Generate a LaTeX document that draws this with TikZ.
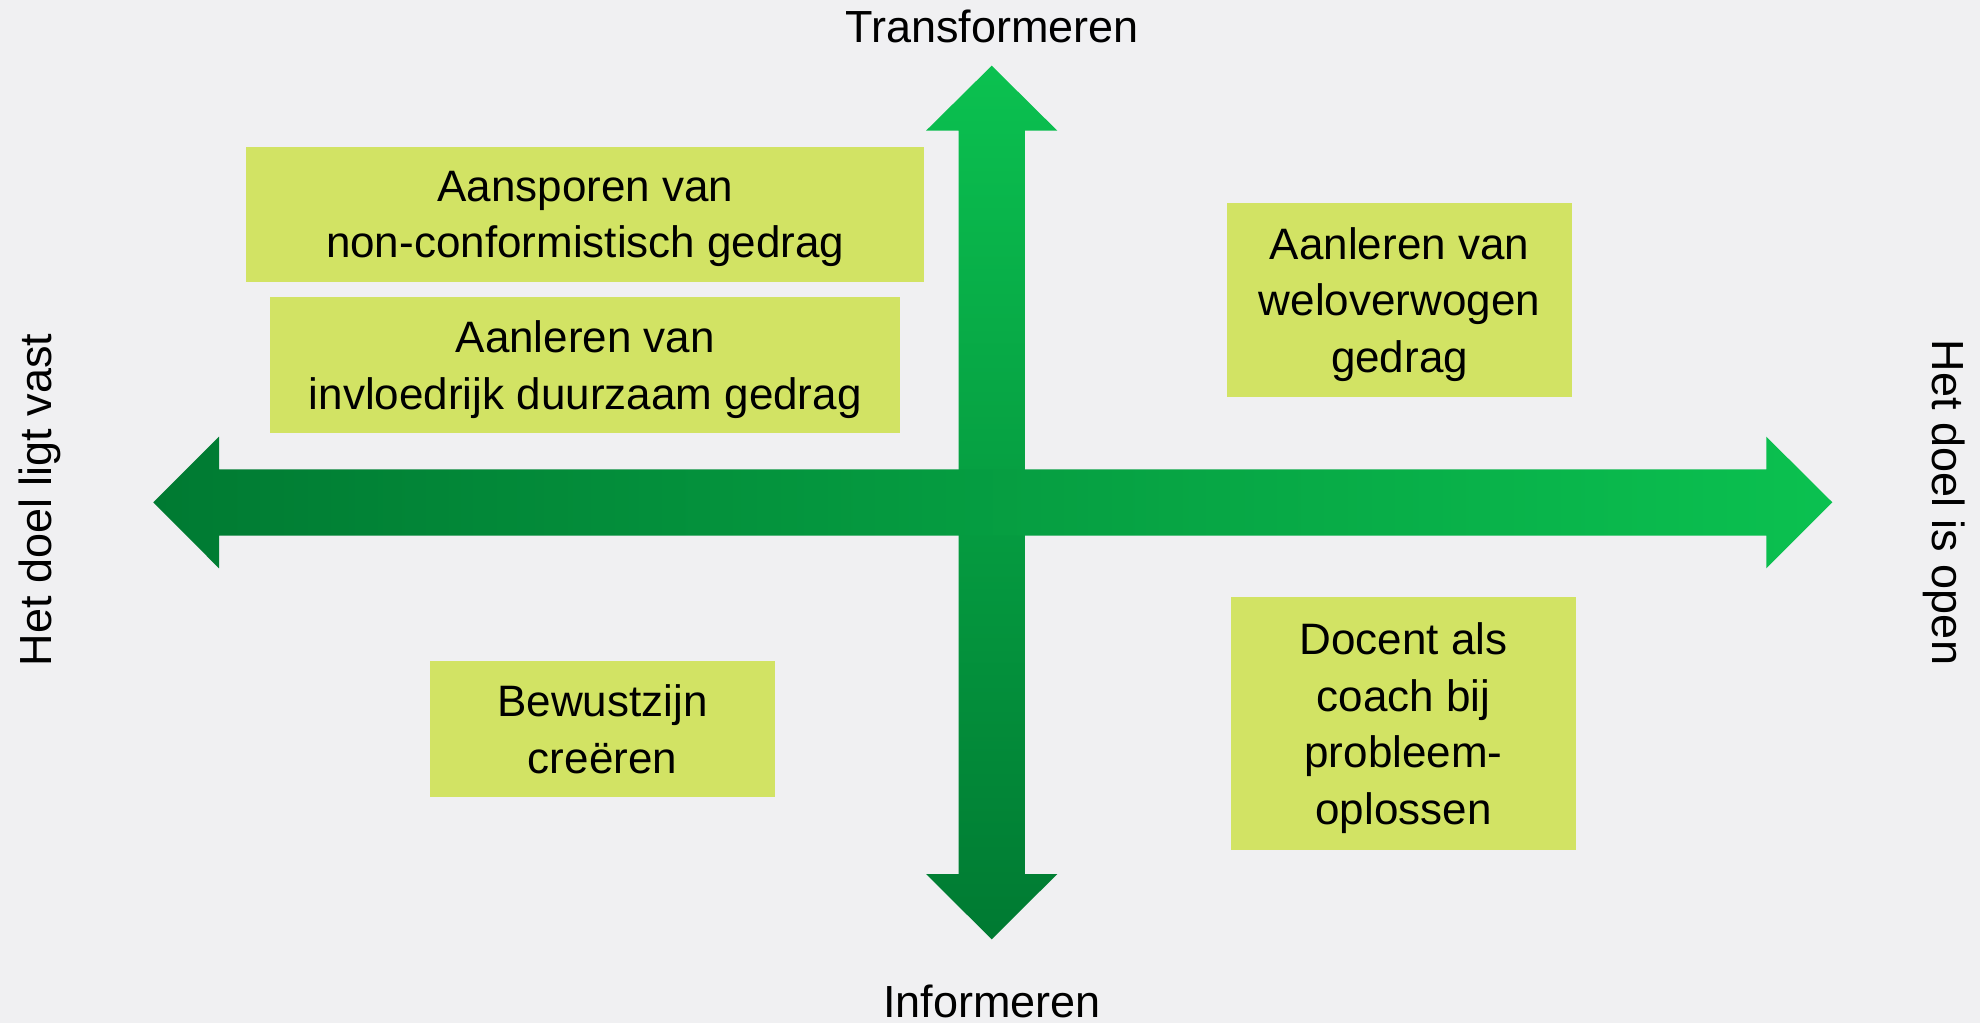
\documentclass[tikz,border=0pt]{standalone}
\usepackage{fontspec}
\setmainfont{Liberation Sans}
\definecolor{bggrey}{RGB}{240,240,242}
\definecolor{quadfill}{RGB}{210,227,100}
\definecolor{arrowdark}{RGB}{0,122,50}
\definecolor{arrowlight}{RGB}{11,193,80}
\tikzset{
  quad/.style={fill=quadfill, inner sep=0pt, align=center, text depth=0pt, font=\fontsize{44}{56.7}\selectfont},
  axislabel/.style={inner sep=0pt, anchor=base, font=\fontsize{45}{54}\selectfont}
}
\begin{document}
\begin{tikzpicture}[x=1pt,y=-1pt]
\fill [bggrey] (0,0) rectangle (1980,1023);
\useasboundingbox (0,0) rectangle (1980,1023);
%\draw [help lines, color=lightgray, step=100] (0,0) grid (1980,1023);
\coordinate (centre) at (991.7,502.3);
% vertical arrow
\shade [top color=arrowlight, bottom color=arrowdark] (991.7,65.7) -- (1057.3,130.7) -- (1024.9,130.7) -- (1024.9,874) -- (1057.3,874) -- (991.7,939.3) -- (926,874) -- (958.5,874) -- (958.5,130.7) -- (926,130.7) -- cycle;
% horizontal arrow
\shade [left color=arrowdark, right color=arrowlight] (153.3,502.3) -- (219,436.7) -- (219,469.3) -- (1766.3,469.3) -- (1766.3,436.7) -- (1832.3,502.3) -- (1766.3,568.3) -- (1766.3,535.5) -- (219,535.5) -- (219,568.3) -- cycle;

\node [axislabel] (transf) at (992,42.3) {Transformeren};
\node [axislabel] (inform) at (992,1017) {Informeren};
\node [axislabel, rotate=90] (vast) at (51.7,500) {Het doel ligt vast};
\node [axislabel, rotate=-90] (open) at (1932.3,502.5) {Het doel is open};

\node [quad, minimum width=678.2pt, minimum height=135.7pt] (aansporen) at (585.3,214.4) {Aansporen van\\non-conformistisch gedrag};
\node [quad, minimum width=630.2pt, minimum height=135.7pt] (invloed) at (585.3,364.9) {Aanleren van\\invloedrijk duurzaam gedrag};
\node [quad, minimum width=345pt, minimum height=193.7pt] (welover) at (1399.5,299.9) {Aanleren van\\weloverwogen\\gedrag};
\node [quad, minimum width=345pt, minimum height=253pt] (coach) at (1403.5,723.5) {Docent als\\coach bij\\probleem-\\oplossen};
\node [quad, minimum width=345pt, minimum height=135.7pt] (bewust) at (602.5,728.9) {Bewustzijn\\creëren};
\end{tikzpicture}
\end{document}
